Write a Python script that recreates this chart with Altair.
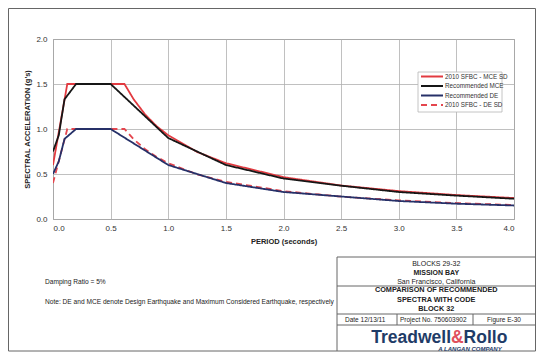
import altair as alt
import pandas as pd

# ---- data ----
series_names = ["2010 SFBC - MCE SD", "Recommended MCE", "Recommended DE", "2010 SFBC - DE SD"]

rec_mce_period = [0.0, 0.05, 0.1, 0.2, 0.5, 1.0, 1.5, 2.0, 2.5, 3.0, 3.5, 4.0]
rec_mce_sa = [0.75, 0.93, 1.33, 1.5, 1.5, 0.9, 0.6, 0.45, 0.37, 0.30, 0.26, 0.225]

rec_de_period = [0.0, 0.05, 0.1, 0.2, 0.5, 1.0, 1.5, 2.0, 2.5, 3.0, 3.5, 4.0]
rec_de_sa = [0.5, 0.64, 0.89, 1.0, 1.0, 0.6, 0.4, 0.3, 0.25, 0.2, 0.17, 0.15]

sfbc_mce_period = [0.0, 0.124, 0.62, 0.7, 0.8, 0.9, 1.0, 1.25, 1.5, 2.0, 2.5, 3.0, 3.5, 4.0]
sfbc_mce_sa = [0.6, 1.5, 1.5, 1.33, 1.16, 1.03, 0.93, 0.745, 0.62, 0.465, 0.372, 0.31, 0.266, 0.233]

sfbc_de_period = [0.0, 0.124, 0.62, 0.7, 0.8, 0.9, 1.0, 1.25, 1.5, 2.0, 2.5, 3.0, 3.5, 4.0]
sfbc_de_sa = [0.4, 1.0, 1.0, 0.886, 0.775, 0.689, 0.62, 0.496, 0.413, 0.31, 0.248, 0.207, 0.177, 0.155]

x_ticks = [0.0, 0.5, 1.0, 1.5, 2.0, 2.5, 3.0, 3.5, 4.0]
y_ticks = [0.0, 0.5, 1.0, 1.5, 2.0]

rows = []
for name, per, sa in [
    ("2010 SFBC - MCE SD", sfbc_mce_period, sfbc_mce_sa),
    ("2010 SFBC - DE SD", sfbc_de_period, sfbc_de_sa),
    ("Recommended MCE", rec_mce_period, rec_mce_sa),
    ("Recommended DE", rec_de_period, rec_de_sa),
]:
    for i, (p, s) in enumerate(zip(per, sa)):
        rows.append({"series": name, "period": p, "sa": s, "idx": i})
df = pd.DataFrame(rows)

FONT = "Liberation Sans"
colors = ["#e23a40", "#161616", "#263068", "#e4464e"]
dashes = [[1, 0], [1, 0], [1, 0], [6, 4]]

lines = alt.Chart(df).mark_line(strokeWidth=1.8, clip=True).encode(
    x=alt.X("period:Q", scale=alt.Scale(domain=[0, 4], nice=False),
            axis=alt.Axis(values=x_ticks, format=".1f", title="PERIOD (seconds)",
                          grid=True, ticks=False, domain=False, labelPadding=5,
                          titlePadding=5)),
    y=alt.Y("sa:Q", scale=alt.Scale(domain=[0, 2], nice=False),
            axis=alt.Axis(values=y_ticks, format=".1f", title="SPECTRAL ACCELERATION (g's)",
                          grid=True, ticks=False, domain=False, labelPadding=6,
                          titlePadding=4)),
    color=alt.Color("series:N", scale=alt.Scale(domain=series_names, range=colors),
                    legend=None),
    strokeDash=alt.StrokeDash("series:N", scale=alt.Scale(domain=series_names, range=dashes),
                              legend=None),
    order="idx:Q",
)

one = alt.Data(values=[{}])

def rule(x1, y1, x2, y2, color="#666", w=1, dash=None):
    kw = dict(color=color, strokeWidth=w)
    if dash:
        kw["strokeDash"] = dash
    return alt.Chart(one).mark_rule(**kw).encode(
        x=alt.value(x1), y=alt.value(y1), x2=alt.value(x2), y2=alt.value(y2))

def txt(s, x, y, size=7, bold=False, align="center", color="#222", italic=False, font=FONT):
    kw = dict(text=s, fontSize=size, font=font, align=align, baseline="middle", color=color)
    if bold:
        kw["fontWeight"] = "bold"
    if italic:
        kw["fontStyle"] = "italic"
    return alt.Chart(one).mark_text(**kw).encode(x=alt.value(x), y=alt.value(y))

# legend box (manual, to match the compact reference legend)
LX0, LX1, LY0, LY1 = 365, 449, 33, 73
legend_layers = [
    alt.Chart(one).mark_rect(fill="white", stroke="#b5b5b5", strokeWidth=0.8).encode(
        x=alt.value(LX0), x2=alt.value(LX1), y=alt.value(LY0), y2=alt.value(LY1)),
]
row_y = [37.5, 47, 56.5, 66]
for name, col, dsh, yy in zip(series_names, colors, dashes, row_y):
    legend_layers.append(rule(368, yy, 390, yy, color=col, w=2, dash=dsh if dsh != [1, 0] else None))
    legend_layers.append(txt(name, 392, yy, 6.3, align="left", color="#333"))

# frame and title block (pixel positions relative to plot origin)
L, T, R, B = -44.5, -30.5, 482.5, 312
BX = 284
deco = [
    rule(L, T, R, T), rule(L, B, R, B), rule(L, T, L, B), rule(R, T, R, B),
    rule(BX, 218, R, 218), rule(BX, 218, BX, B),
    rule(BX, 247, R, 247), rule(BX, 275, R, 275), rule(BX, 286, R, 286),
    rule(344, 275, 344, 286), rule(420, 275, 420, 286),
]
cx = (BX + R) / 2
texts = [
    txt("BLOCKS 29-32", cx, 224.5, 7),
    txt("MISSION BAY", cx, 233.7, 7, bold=True),
    txt("San Francisco, California", cx, 242.7, 7),
    txt("COMPARISON OF RECOMMENDED", cx, 251.2, 7.3, bold=True),
    txt("SPECTRA WITH CODE", cx, 261, 7.3, bold=True),
    txt("BLOCK 32", cx, 270.3, 7.3, bold=True),
    txt("Date  12/13/11", 292, 281, 6.5, align="left"),
    txt("Project No. 750603902", 347, 281, 6.5, align="left"),
    txt("Figure E-30", 451, 281, 6.5),
    txt("Treadwell", 398, 298.5, 17.5, bold=True, align="right", color="#1f3c68"),
    txt("&", 404.3, 298.5, 17.5, bold=True, color="#e0505c"),
    txt("Rollo", 410.6, 298.5, 17.5, bold=True, align="left", color="#1f3c68"),
    txt("A LANGAN COMPANY", 417, 309.5, 6, bold=True, italic=True, color="#1f3c68"),
    txt("Damping Ratio = 5%", -8, 243.3, 6.6, align="left"),
    txt("Note: DE and MCE denote Design Earthquake and Maximum Considered Earthquake, respectively",
        -8, 263.3, 6.6, align="left"),
]

chart = alt.layer(lines, *legend_layers, *deco, *texts).properties(
    width=461, height=180,
    autosize=alt.AutoSizeParams(type="none"),
    padding={"left": 45, "top": 31, "right": 22, "bottom": 133},
    background="white",
).configure_view(stroke="#888", strokeWidth=1).configure_axis(
    gridColor="#b0b0b0", gridWidth=0.8, labelFont=FONT, labelFontSize=8,
    labelColor="#333", titleFont=FONT, titleFontSize=7.5, titleFontWeight="bold",
    titleColor="#222",
)

chart.save("out.html", embed_options={"renderer": "svg", "actions": False})
